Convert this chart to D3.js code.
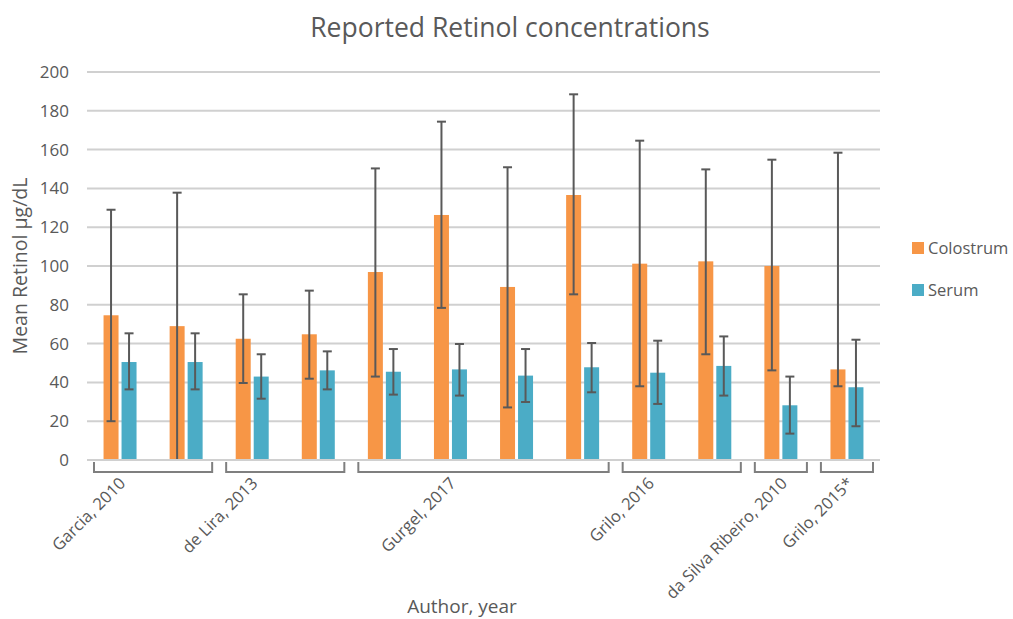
<!DOCTYPE html>
<html lang="en">
<head>
<meta charset="UTF-8">
<title>Reported Retinol concentrations</title>
<script src="https://d3js.org/d3.v7.min.js"></script>
<style>
  body { margin: 0; background: #fff; }
  svg text { font-family: "Open Sans", sans-serif; fill: #595959; }
</style>
</head>
<body>
<svg id="chart" width="1013" height="619"></svg>
<script>
// author groups and how many studies (bar pairs) each has
var groups = ["Garcia, 2010", "de Lira, 2013", "Gurgel, 2017", "Grilo, 2016", "da Silva Ribeiro, 2010", "Grilo, 2015*"];
var groupSizes = [2, 2, 4, 2, 1, 1];
var series = ["Colostrum", "Serum"];

// mean retinol, µg/dL, with the error bar ends
var colostrum     = [74.6, 69.0, 62.5, 64.8, 96.9, 126.3, 89.2, 136.6, 101.2, 102.4, 100.0, 46.7];
var colostrumHigh = [129.0, 137.8, 85.4, 87.3, 150.3, 174.4, 150.9, 188.5, 164.6, 149.8, 154.8, 158.4];
var colostrumLow  = [20.0, -1.0, 39.7, 41.9, 43.0, 78.4, 27.1, 85.4, 38.0, 54.5, 46.2, 38.0];
var serum     = [50.5, 50.5, 43.0, 46.2, 45.5, 46.7, 43.5, 47.8, 45.0, 48.5, 28.2, 37.5];
var serumHigh = [65.3, 65.3, 54.5, 56.0, 57.2, 59.8, 57.2, 60.3, 61.5, 63.7, 43.0, 62.0];
var serumLow  = [36.4, 36.4, 31.6, 36.4, 33.7, 33.2, 29.9, 34.9, 28.9, 33.2, 13.6, 17.4];

var yTicks = [0, 20, 40, 60, 80, 100, 120, 140, 160, 180, 200];

var colors = { Colostrum: "#f79646", Serum: "#4bacc6" };
var pLeft = 87, pRight = 880, pTop = 72, pBottom = 460;

var svg = d3.select("#chart");

var x = d3.scaleBand().domain(d3.range(colostrum.length)).range([pLeft, pRight]);
var bw = x.bandwidth();
var x1 = d3.scaleBand().domain(series).range([bw / 2 - 16.5, bw / 2 + 16.5]).paddingInner(3 / 18);
var y = d3.scaleLinear().domain([0, 200]).range([pBottom, pTop]);

// title
svg.append("text")
  .attr("x", 510).attr("y", 37)
  .attr("text-anchor", "middle")
  .style("font-size", "26.5px")
  .text("Reported Retinol concentrations");

// gridlines
svg.append("g").selectAll("line").data(yTicks).enter().append("line")
  .attr("x1", pLeft).attr("x2", pRight)
  .attr("y1", function(d) { return y(d); }).attr("y2", function(d) { return y(d); })
  .attr("stroke", "#d0d0d0").attr("stroke-width", 2);

// y axis labels
var yAxis = d3.axisLeft(y).tickValues(yTicks).tickSize(0).tickPadding(18);
svg.append("g").attr("transform", "translate(" + pLeft + ",0)").call(yAxis)
  .call(function(g) {
    g.select(".domain").remove();
    g.selectAll("text").style("font-size", "17px").attr("fill", "#595959").attr("font-family", "Open Sans");
  });

svg.append("text")
  .attr("transform", "translate(27," + ((pTop + pBottom) / 2) + ") rotate(-90)")
  .attr("text-anchor", "middle")
  .style("font-size", "19.5px")
  .text("Mean Retinol µg/dL");

// table for bars
var rows = colostrum.map(function(v, i) {
  return [
    { i: i, s: "Colostrum", v: v, hi: colostrumHigh[i], lo: colostrumLow[i] },
    { i: i, s: "Serum", v: serum[i], hi: serumHigh[i], lo: serumLow[i] }
  ];
});
var flat = d3.merge(rows);

var plot = svg.append("g");
plot.selectAll("rect").data(flat).enter().append("rect")
  .attr("x", function(d) { return x(d.i) + x1(d.s); })
  .attr("width", x1.bandwidth())
  .attr("y", function(d) { return y(d.v); })
  .attr("height", function(d) { return y(0) - y(d.v); })
  .attr("fill", function(d) { return colors[d.s]; });

// error bars, clipped to the plot area
svg.append("clipPath").attr("id", "clip").append("rect")
  .attr("x", pLeft).attr("y", 0).attr("width", pRight - pLeft).attr("height", pBottom);
var err = svg.append("g").attr("clip-path", "url(#clip)")
  .attr("stroke", "#595959").attr("stroke-width", 2);
var cx = function(d) { return x(d.i) + x1(d.s) + x1.bandwidth() / 2; };
err.selectAll(".stem").data(flat).enter().append("line")
  .attr("x1", cx).attr("x2", cx)
  .attr("y1", function(d) { return y(d.hi); }).attr("y2", function(d) { return y(d.lo); });
["hi", "lo"].forEach(function(k) {
  err.selectAll(".cap-" + k).data(flat).enter().append("line")
    .attr("x1", function(d) { return cx(d) - 4.5; }).attr("x2", function(d) { return cx(d) + 4.5; })
    .attr("y1", function(d) { return y(d[k]); }).attr("y2", function(d) { return y(d[k]); });
});

// baseline
svg.append("line").attr("x1", pLeft).attr("x2", pRight)
  .attr("y1", pBottom).attr("y2", pBottom)
  .attr("stroke", "#d0d0d0").attr("stroke-width", 2);

// group brackets and labels
var start = 0;
groups.forEach(function(g, k) {
  var x0 = x(start) + 7, xEnd = x(start + groupSizes[k] - 1) + bw - 7;
  svg.append("path")
    .attr("d", "M" + x0 + "," + (pBottom + 2) + "V" + (pBottom + 12) + "H" + xEnd + "V" + (pBottom + 2))
    .attr("fill", "none").attr("stroke", "#7f7f7f").attr("stroke-width", 2);
  var mid = (x(start) + x(start + groupSizes[k] - 1) + bw) / 2;
  var lx = groupSizes[k] > 1 ? mid - 35 : mid - 1;
  svg.append("text")
    .attr("transform", "translate(" + lx + "," + (pBottom + 16) + ") rotate(-45)")
    .attr("text-anchor", "end")
    .attr("dy", "0.72em")
    .style("font-size", "16.5px")
    .text(g);
  start += groupSizes[k];
});

svg.append("text")
  .attr("x", 462).attr("y", 613)
  .attr("text-anchor", "middle")
  .style("font-size", "19px")
  .text("Author, year");

// legend
var legend = svg.append("g").selectAll("g").data(series).enter().append("g")
  .attr("transform", function(d, i) { return "translate(912," + (242 + i * 42) + ")"; });
legend.append("rect").attr("width", 12).attr("height", 12)
  .attr("fill", function(d) { return colors[d]; });
legend.append("text").attr("x", 16).attr("y", 6).attr("dy", "0.35em")
  .style("font-size", "16.5px")
  .text(function(d) { return d; });
</script>
</body>
</html>
